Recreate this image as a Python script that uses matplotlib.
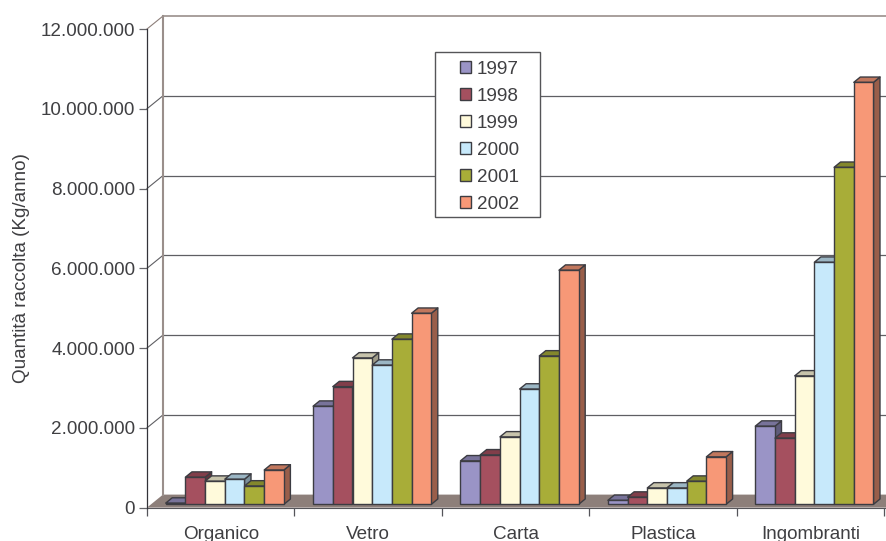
import matplotlib
matplotlib.use("Agg")
import matplotlib.pyplot as plt
from matplotlib.patches import Polygon, Patch, Rectangle
from matplotlib.colors import to_rgb

categories = ["Organico", "Vetro", "Carta", "Plastica", "Ingombranti"]
years = ["1997", "1998", "1999", "2000", "2001", "2002"]
v1997 = [30000, 2460000, 1090000, 100000, 1960000]
v1998 = [680000, 2950000, 1240000, 180000, 1660000]
v1999 = [580000, 3670000, 1690000, 410000, 3220000]
v2000 = [630000, 3490000, 2890000, 410000, 6070000]
v2001 = [460000, 4140000, 3720000, 580000, 8450000]
v2002 = [860000, 4790000, 5870000, 1190000, 10580000]
series = [v1997, v1998, v1999, v2000, v2001, v2002]
colors = ["#9a94c6", "#a5505f", "#fffadb", "#c7e9fb", "#a8ad38", "#f79877"]
yticks = [0, 2000000, 4000000, 6000000, 8000000, 10000000, 12000000]
ytick_labels = ["0", "2.000.000", "4.000.000", "6.000.000", "8.000.000", "10.000.000", "12.000.000"]

W, H = 886, 541
L, R, B, T = 147, 886, 507.6, 29
CAT = 147.4
fig = plt.figure(figsize=(W / 100, H / 100), dpi=100, facecolor="white")
ax = fig.add_axes([L / W, 1 - B / H, (R - L) / W, (B - T) / H])
ax.set_xlim(0, (R - L) / CAT)
ax.set_ylim(0, 12000000)
PX = 1 / CAT
PY = 12000000 / (B - T)
FONT = "Liberation Sans"
FS = 13.6
TXT = "#3f3f42"
EDGE = "#3c3c42"
GRID = "#5f5f63"
xmax = (R - L) / CAT

def shade(c, f):
    return tuple(x * f for x in to_rgb(c))

# back wall, floor
bx, by = 16 * PX, 13 * PY
ax.add_patch(Polygon([(0, 0), (bx, by), (xmax + 0.1, by), (xmax + 0.1, 0)], fc="#8d7f7a", ec="none", zorder=1))
ax.plot([bx, bx], [by, 12000000 + by], color="#9a8f8b", lw=1.5, zorder=1.2, clip_on=False)
for t in yticks[1:-1]:
    ax.plot([bx, xmax], [t + by, t + by], color=GRID, lw=0.9, zorder=1.1, clip_on=False)
    ax.plot([0, bx], [t, t + by], color=GRID, lw=0.8, zorder=1.1, clip_on=False)
ax.plot([bx, xmax], [12000000 + by] * 2, color="#9a8f8b", lw=1.2, zorder=1.1, clip_on=False)
ax.plot([0, bx], [12000000, 12000000 + by], color="#8d7f7a", lw=0.8, zorder=1.1, clip_on=False)

# bars
bw = 19.7 * PX
start = 18.7 * PX
base = 3.3 * PY
dx, dy = 6.5 * PX, 5.3 * PY
z = 2.0
LW = 1.0
for ci in range(len(categories)):
    for si, vals in enumerate(series):
        c = colors[si]
        v = vals[ci]
        x0 = ci + start + si * bw
        x1 = x0 + bw
        top = base + v
        ax.add_patch(Polygon([(x1, base), (x1 + dx, base + dy), (x1 + dx, top + dy), (x1, top)],
                             fc=shade(c, 0.62), ec=EDGE, lw=LW, zorder=z, joinstyle="round"))
        ax.add_patch(Polygon([(x0, top), (x0 + dx, top + dy), (x1 + dx, top + dy), (x1, top)],
                             fc=shade(c, 0.78), ec=EDGE, lw=LW, zorder=z + 0.01, joinstyle="round"))
        ax.bar(x0, v, width=bw, bottom=base, align="edge", color=c, edgecolor=EDGE, lw=LW, zorder=z + 0.02)
        z += 0.1

# axes
for s in ["top", "right", "bottom"]:
    ax.spines[s].set_visible(False)
ax.spines["left"].set_color("#333338")
ax.spines["left"].set_linewidth(0.9)
ax.set_yticks(yticks)
ax.set_yticklabels(ytick_labels, fontsize=FS, color=TXT, family=FONT)
ax.tick_params(axis="y", length=5.5, width=0.9, color="#66666a", pad=3)
ax.set_xticks(range(len(categories) + 1))
ax.set_xticklabels([])
ax.tick_params(axis="x", which="major", length=6, width=0.9, color="#55555a")
ax.set_xticks([i + 0.5 for i in range(len(categories))], minor=True)
ax.set_xticklabels(categories, minor=True, fontsize=FS, color=TXT, family=FONT)
ax.tick_params(axis="x", which="minor", length=0, pad=13)
ax.plot([0, xmax], [0, 0], color="#55555a", lw=0.8, zorder=1.5, clip_on=False)
fig.text(21.5 / W, 1 - 268.5 / H, "Quantità raccolta (Kg/anno)", rotation=90, ha="center", va="center",
         fontsize=FS, color=TXT, family=FONT)

# legend
fig.add_artist(Rectangle((434.7 / W, 1 - 216.7 / H), 105.3 / W, 164.7 / H, transform=fig.transFigure,
                         fc="white", ec="#555558", lw=1.0, zorder=40))
handles = [Patch(fc=c, ec=EDGE, lw=1.0) for c in colors]
leg = fig.legend(handles, years, loc="upper left", bbox_to_anchor=(460 / W, 1 - 60.5 / H), bbox_transform=fig.transFigure,
                 prop={"family": FONT, "size": FS}, labelcolor=TXT, frameon=False, borderaxespad=0, borderpad=0,
                 handlelength=0.6, handleheight=0.6, handletextpad=0.3, labelspacing=0.535)
leg.set_zorder(50)
fig.savefig("out.png", dpi=100)
